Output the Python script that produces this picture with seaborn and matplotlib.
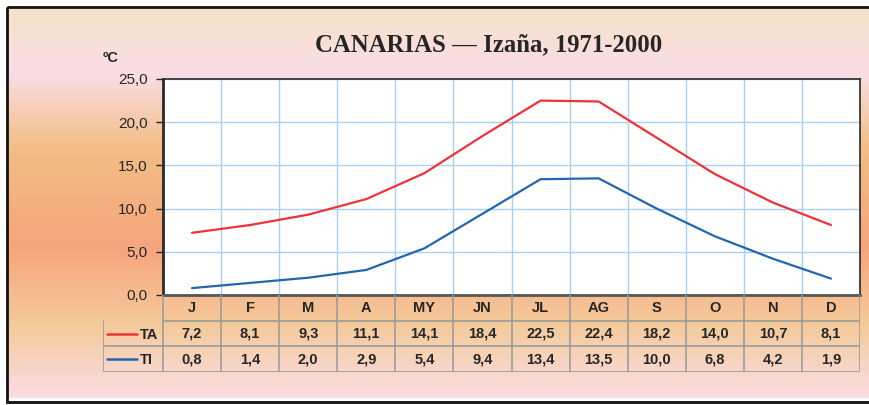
import matplotlib
matplotlib.use("Agg")
import matplotlib.pyplot as plt
import numpy as np
import pandas as pd
import seaborn as sns
from matplotlib.colors import LinearSegmentedColormap
from matplotlib.patches import Rectangle

months = ["J", "F", "M", "A", "MY", "JN", "JL", "AG", "S", "O", "N", "D"]
ta = [7.2, 8.1, 9.3, 11.1, 14.1, 18.4, 22.5, 22.4, 18.2, 14.0, 10.7, 8.1]
ti = [0.8, 1.4, 2.0, 2.9, 5.4, 9.4, 13.4, 13.5, 10.0, 6.8, 4.2, 1.9]
series_names = ["TA", "TI"]
yticks = [0, 5, 10, 15, 20, 25]

RED = "#EE3338"
BLUE = "#2266B0"
GRID = "#A9D0F0"
TABLE_LINE = "#9C9C9C"

sns.set_theme(style="white")
plt.rcParams["font.family"] = ["Liberation Sans Narrow", "Liberation Sans", "DejaVu Sans"]

W, H = 869, 405
fig = plt.figure(figsize=(W / 100, H / 100), dpi=100)


def px(x0, y0, x1, y1):
    # pixel box (top-left origin) -> figure fraction rect
    return [x0 / W, 1 - y1 / H, (x1 - x0) / W, (y1 - y0) / H]


# background gradient
bg = fig.add_axes([0, 0, 1, 1], zorder=0)
grad = LinearSegmentedColormap.from_list("bg", [
    (0.00, "#F5E3C6"), (0.18, "#FADDE6"), (0.37, "#F2BE85"),
    (0.62, "#F6A57D"), (0.82, "#F4CB9C"), (1.00, "#FADDE4")])
bg.imshow(np.linspace(0, 1, 256)[:, None], aspect="auto", cmap=grad,
          extent=[7, W + 5, H - 7, 2])
bg.set_xlim(0, W)
bg.set_ylim(H, 0)
bg.axis("off")
bg.add_patch(Rectangle((0, 0), W, 7, color="white", zorder=2))
bg.add_patch(Rectangle((0, 0), 7, H, color="white", zorder=2))
bg.add_patch(Rectangle((7, 7), W + 20, H - 10, fill=False, ec="#111111", lw=2,
                       zorder=3, clip_on=False))

# main chart
ax = fig.add_axes(px(163, 79, 860, 295), zorder=2)
ax.set_facecolor("white")
df = pd.DataFrame({"mes": list(range(12)) * 2, "temp": ta + ti,
                   "serie": [series_names[0]] * 12 + [series_names[1]] * 12})
sns.lineplot(data=df, x="mes", y="temp", hue="serie", palette=[RED, BLUE],
             linewidth=1.6, legend=False, ax=ax)
ax.set_xlim(-0.5, 11.5)
ax.set_ylim(0, 25)
ax.set_yticks(yticks)
ax.set_yticklabels([f"{v:.1f}".replace(".", ",") for v in yticks], fontsize=11)
ax.set_xticks(np.arange(-0.5, 12, 1))
ax.set_xticklabels([])
ax.grid(True, color=GRID, lw=1)
ax.set_axisbelow(True)
ax.set_xlabel("")
ax.set_ylabel("")
ax.tick_params(axis="y", left=True, length=5, width=1, color="#222222", pad=6)
ax.tick_params(axis="x", bottom=False)
for side, lw, c in [("left", 2, "#2a2a2a"), ("bottom", 2, "#555555"),
                    ("top", 1.2, "#2a2a2a"), ("right", 1.2, "#2a2a2a")]:
    ax.spines[side].set_visible(True)
    ax.spines[side].set_linewidth(lw)
    ax.spines[side].set_color(c)

fig.text(111 / W, 1 - 58 / H, "ºC", fontsize=10.5, fontweight="bold",
         ha="center", va="center", family=["Liberation Sans", "DejaVu Sans"])
fig.text(489 / W, 1 - 45 / H, "CANARIAS — Izaña, 1971-2000", fontsize=17.8,
         fontweight="bold", ha="center", va="center",
         family=["Liberation Serif", "DejaVu Serif"])

# data table below the chart
unit = (860 - 163) / 12
left = -0.5 - (163 - 103) / unit
tab = fig.add_axes(px(103, 295, 860, 372), zorder=2)
tab.set_xlim(left, 11.5)
tab.set_ylim(3, 0)
tab.axis("off")
rows = [ta, ti]
for i in range(13):
    tab.plot([i - 0.5, i - 0.5], [0, 3], color=TABLE_LINE, lw=1.2)
tab.plot([left, left], [1, 3], color=TABLE_LINE, lw=1.2)
for r in (1, 2, 3):
    tab.plot([left if r > 1 else -0.5, 11.5], [r, r], color=TABLE_LINE, lw=1.2)
for j, m in enumerate(months):
    tab.text(j, 0.5, m, ha="center", va="center", fontsize=10.5, fontweight="bold")
for r, (name, vals, col) in enumerate(zip(series_names, rows, [RED, BLUE])):
    y = 1.5 + r
    for j, v in enumerate(vals):
        tab.text(j, y, f"{v:.1f}".replace(".", ","), ha="center", va="center",
                 fontsize=10.5, fontweight="bold")
    tab.plot([left + 0.07, left + 0.58], [y, y], color=col, lw=1.8)
    tab.text(left + 0.64, y + 0.05, name, ha="left", va="center",
             fontsize=10.5, fontweight="bold")

fig.savefig("out.png", dpi=100)
